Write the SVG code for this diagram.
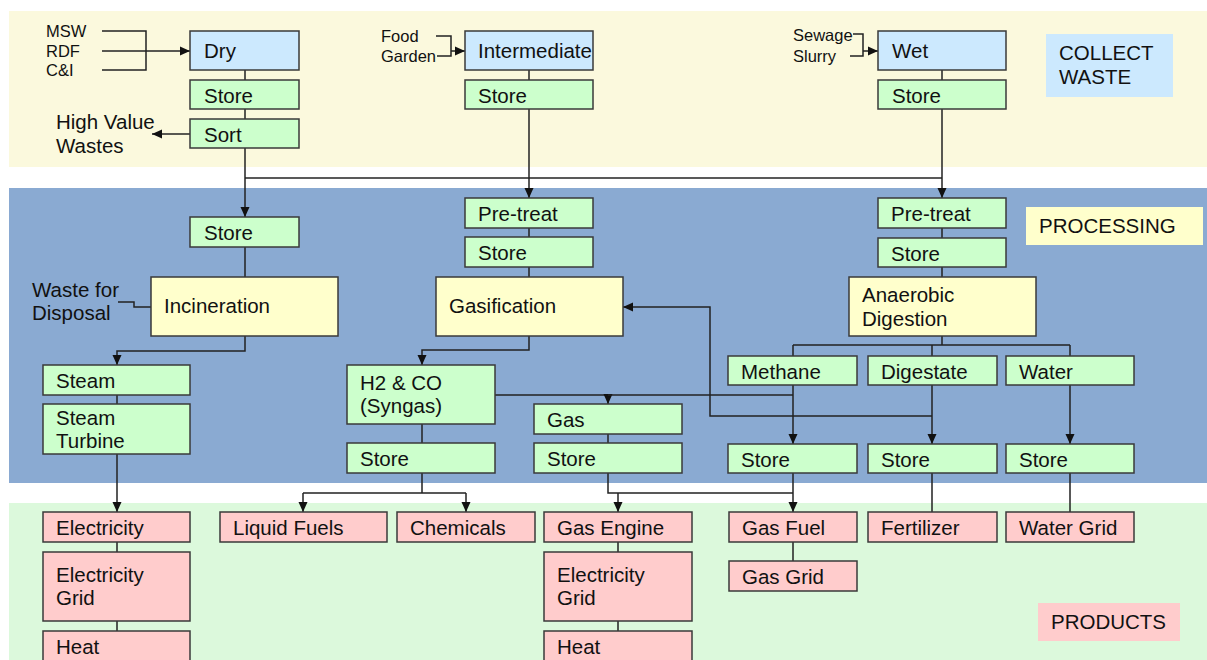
<svg xmlns="http://www.w3.org/2000/svg" width="1207" height="660" viewBox="0 0 1207 660">
<defs>
<marker id="ah" markerUnits="userSpaceOnUse" markerWidth="10" markerHeight="10" refX="10" refY="5" orient="auto"><path d="M0,0.5 L10,5 L0,9.5 z" fill="#111"/></marker>
<style>
text{font-family:"Liberation Sans",Arial,sans-serif;font-size:20.5px;fill:#111}
.sm{font-size:16.5px}
.b rect{stroke:#3a3a3a;stroke-width:1.5}
.blue{fill:#cce9fe}.green{fill:#ccffcc}.yellow{fill:#ffffcc}.pink{fill:#ffcccc}
#connectors path{fill:none;stroke:#222;stroke-width:1.5}
.a{marker-end:url(#ah)}
</style>
</defs>
<rect width="1207" height="660" fill="#fff"/>
<g id="bands">
<rect x="9" y="11" width="1198" height="156" fill="#fbf9dd"/>
<rect x="9" y="188" width="1198" height="295" fill="#8aaad2"/>
<rect x="9" y="503" width="1198" height="157" fill="#dcf9dc"/>
<rect x="1046" y="34" width="127" height="63" fill="#cce9fe"/>
<text x="1059" y="60">COLLECT</text><text x="1059" y="84">WASTE</text>
<rect x="1026" y="207" width="177" height="38" fill="#ffffcc"/>
<text x="1039" y="233">PROCESSING</text>
<rect x="1038" y="603" width="142" height="38" fill="#ffcccc"/>
<text x="1051" y="629">PRODUCTS</text>
</g>
<g id="labels">
<text class="sm" x="46" y="37">MSW</text>
<text class="sm" x="46" y="57">RDF</text>
<text class="sm" x="46" y="76">C&amp;I</text>
<text class="sm" x="381" y="42">Food</text>
<text class="sm" x="381" y="62">Garden</text>
<text class="sm" x="793" y="41">Sewage</text>
<text class="sm" x="793" y="62">Slurry</text>
<text x="56" y="129">High Value</text>
<text x="56" y="153">Wastes</text>
<text x="32" y="297">Waste for</text>
<text x="32" y="320">Disposal</text>
</g>
<g id="connectors">
<path d="M102,31 H146 V70 H102"/>
<path class="a" d="M102,51 H190"/>
<path d="M436,36 H451 V56 H437"/>
<path class="a" d="M451,51 H465"/>
<path d="M853,34 H863 V56 H850"/>
<path class="a" d="M863,51 H878"/>
<path d="M245,70 V80 M245,109 V119"/>
<path class="a" d="M190,134 H152"/>
<path class="a" d="M245,148 V217"/>
<path d="M245,178 H942"/>
<path d="M529,70 V80"/>
<path class="a" d="M529,109 V198"/>
<path d="M942,70 V80"/>
<path class="a" d="M942,109 V198"/>
<path d="M529,228 V237 M529,267 V277 M942,228 V238 M942,267 V277 M245,247 V277"/>
<path d="M118,302 H134 V307 H151"/>
<path class="a" d="M245,336 V351 H117 V365"/>
<path d="M117,395 V404"/>
<path class="a" d="M117,454 V512"/>
<path class="a" d="M529,336 V350 H422 V365"/>
<path d="M422,424 V443"/>
<path class="a" d="M495,395 H608 V404"/>
<path d="M793,395 H608"/>
<path d="M608,434 V443"/>
<path d="M942,336 V345 M793,345 H1070 M793,345 V356 M932,345 V356 M1070,345 V356"/>
<path class="a" d="M793,385 V444"/>
<path class="a" d="M932,385 V444"/>
<path class="a" d="M1070,385 V444"/>
<path class="a" d="M932,416 H710 V307 H623"/>
<path d="M422,473 V493 M303,493 H466"/>
<path class="a" d="M303,493 V512"/>
<path class="a" d="M466,493 V512"/>
<path d="M608,473 V493 H793"/>
<path class="a" d="M618,493 V512"/>
<path class="a" d="M793,473 V512"/>
<path d="M932,473 V512 M1070,473 V512"/>
<path d="M117,542 V552 M117,621 V631 M618,542 V552 M618,621 V631 M793,542 V561"/>
</g>
<g id="dry" class="b"><rect class="blue" x="190" y="31" width="109" height="39"/><text x="204" y="58">Dry</text></g>
<g id="dry-store" class="b"><rect class="green" x="190" y="80" width="109" height="29"/><text x="204" y="103">Store</text></g>
<g id="sort" class="b"><rect class="green" x="190" y="119" width="109" height="29"/><text x="204" y="142">Sort</text></g>
<g id="intermediate" class="b"><rect class="blue" x="465" y="31" width="128" height="39"/><text x="478" y="58">Intermediate</text></g>
<g id="int-store" class="b"><rect class="green" x="465" y="80" width="128" height="29"/><text x="478" y="103">Store</text></g>
<g id="wet" class="b"><rect class="blue" x="878" y="31" width="128" height="39"/><text x="892" y="58">Wet</text></g>
<g id="wet-store" class="b"><rect class="green" x="878" y="80" width="128" height="29"/><text x="892" y="103">Store</text></g>
<g id="proc-store-left" class="b"><rect class="green" x="190" y="217" width="109" height="30"/><text x="204" y="240">Store</text></g>
<g id="incineration" class="b"><rect class="yellow" x="151" y="277" width="187" height="59"/><text x="164" y="313">Incineration</text></g>
<g id="steam" class="b"><rect class="green" x="43" y="365" width="147" height="30"/><text x="56" y="388">Steam</text></g>
<g id="steam-turbine" class="b"><rect class="green" x="43" y="404" width="147" height="50"/><text x="56" y="425">Steam</text><text x="56" y="448">Turbine</text></g>
<g id="pretreat-mid" class="b"><rect class="green" x="465" y="198" width="128" height="30"/><text x="478" y="221">Pre-treat</text></g>
<g id="store-mid" class="b"><rect class="green" x="465" y="237" width="128" height="30"/><text x="478" y="260">Store</text></g>
<g id="gasification" class="b"><rect class="yellow" x="436" y="277" width="187" height="59"/><text x="449" y="313">Gasification</text></g>
<g id="syngas" class="b"><rect class="green" x="347" y="365" width="148" height="59"/><text x="360" y="390">H2 &amp; CO</text><text x="360" y="413">(Syngas)</text></g>
<g id="syngas-store" class="b"><rect class="green" x="347" y="443" width="148" height="30"/><text x="360" y="466">Store</text></g>
<g id="gas" class="b"><rect class="green" x="534" y="404" width="148" height="30"/><text x="547" y="427">Gas</text></g>
<g id="gas-store" class="b"><rect class="green" x="534" y="443" width="148" height="30"/><text x="547" y="466">Store</text></g>
<g id="pretreat-right" class="b"><rect class="green" x="878" y="198" width="128" height="30"/><text x="891" y="221">Pre-treat</text></g>
<g id="store-right" class="b"><rect class="green" x="878" y="238" width="128" height="29"/><text x="891" y="261">Store</text></g>
<g id="anaerobic" class="b"><rect class="yellow" x="849" y="277" width="187" height="59"/><text x="862" y="302">Anaerobic</text><text x="862" y="326">Digestion</text></g>
<g id="methane" class="b"><rect class="green" x="728" y="356" width="129" height="29"/><text x="741" y="379">Methane</text></g>
<g id="digestate" class="b"><rect class="green" x="868" y="356" width="129" height="29"/><text x="881" y="379">Digestate</text></g>
<g id="water" class="b"><rect class="green" x="1006" y="356" width="128" height="29"/><text x="1019" y="379">Water</text></g>
<g id="methane-store" class="b"><rect class="green" x="728" y="444" width="129" height="29"/><text x="741" y="467">Store</text></g>
<g id="digestate-store" class="b"><rect class="green" x="868" y="444" width="129" height="29"/><text x="881" y="467">Store</text></g>
<g id="water-store" class="b"><rect class="green" x="1006" y="444" width="128" height="29"/><text x="1019" y="467">Store</text></g>
<g id="electricity" class="b"><rect class="pink" x="43" y="512" width="147" height="30"/><text x="56" y="535">Electricity</text></g>
<g id="electricity-grid" class="b"><rect class="pink" x="43" y="552" width="147" height="69"/><text x="56" y="582">Electricity</text><text x="56" y="605">Grid</text></g>
<g id="heat" class="b"><rect class="pink" x="43" y="631" width="147" height="40"/><text x="56" y="654">Heat</text></g>
<g id="liquid-fuels" class="b"><rect class="pink" x="220" y="512" width="167" height="30"/><text x="233" y="535">Liquid Fuels</text></g>
<g id="chemicals" class="b"><rect class="pink" x="397" y="512" width="138" height="30"/><text x="410" y="535">Chemicals</text></g>
<g id="gas-engine" class="b"><rect class="pink" x="544" y="512" width="148" height="30"/><text x="557" y="535">Gas Engine</text></g>
<g id="electricity-grid-2" class="b"><rect class="pink" x="544" y="552" width="148" height="69"/><text x="557" y="582">Electricity</text><text x="557" y="605">Grid</text></g>
<g id="heat-2" class="b"><rect class="pink" x="544" y="631" width="148" height="40"/><text x="557" y="654">Heat</text></g>
<g id="gas-fuel" class="b"><rect class="pink" x="729" y="512" width="128" height="30"/><text x="742" y="535">Gas Fuel</text></g>
<g id="gas-grid" class="b"><rect class="pink" x="729" y="561" width="128" height="30"/><text x="742" y="584">Gas Grid</text></g>
<g id="fertilizer" class="b"><rect class="pink" x="868" y="512" width="129" height="30"/><text x="881" y="535">Fertilizer</text></g>
<g id="water-grid" class="b"><rect class="pink" x="1006" y="512" width="128" height="30"/><text x="1019" y="535">Water Grid</text></g>
</svg>
